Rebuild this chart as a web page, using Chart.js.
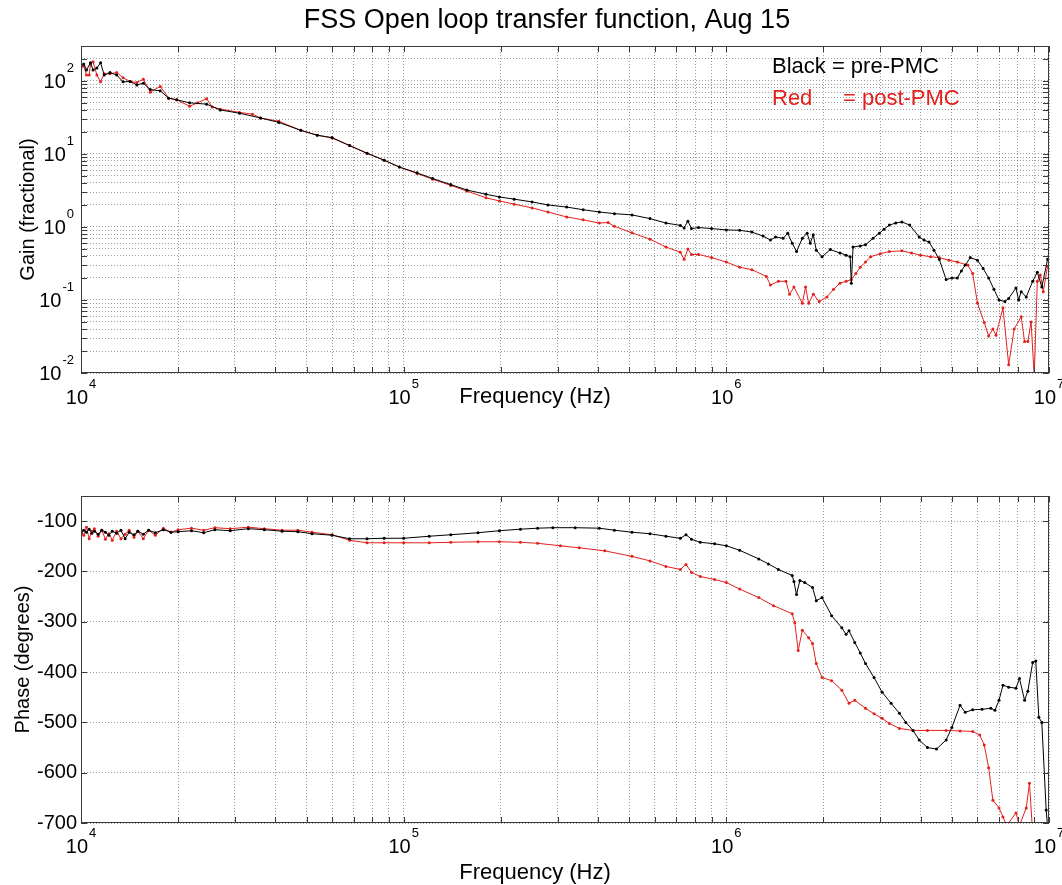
<!DOCTYPE html>
<html>
<head>
<meta charset="utf-8">
<title>FSS Open loop transfer function, Aug 15</title>
<script src="https://cdn.jsdelivr.net/npm/chart.js@4.4.0/dist/chart.umd.min.js"></script>
<style>
  html, body { margin: 0; padding: 0; background: #fff; }
  #wrap { position: relative; width: 1062px; height: 885px; }
  canvas { position: absolute; left: 0; }
  #gain { top: 0; }
  #phase { top: 480px; }
</style>
</head>
<body>
<div id="wrap">
  <canvas id="gain" width="1062" height="420"></canvas>
  <canvas id="phase" width="1062" height="405"></canvas>
</div>
<script>
// ── Data: [frequency Hz, value] ───────────────────────────
const preGain = [
  [1.00e4,160],[1.02e4,170],[1.04e4,141],[1.07e4,177],[1.09e4,141],[1.12e4,150],[1.15e4,177],[1.18e4,120],
  [1.23e4,130],[1.29e4,120],[1.35e4,97],[1.42e4,98],[1.49e4,88],[1.56e4,93],[1.64e4,76],[1.76e4,73],
  [1.87e4,58],[1.98e4,55],[2.17e4,50],[2.45e4,48],[2.7e4,40],[3.1e4,36],[3.6e4,31],[4.1e4,27],
  [4.8e4,21],[5.4e4,18],[6.0e4,16.7],[6.8e4,13],[7.7e4,10.2],[8.7e4,8.2],[9.7e4,6.6],[1.1e5,5.5],
  [1.23e5,4.6],[1.4e5,3.8],[1.57e5,3.2],[1.8e5,2.8],[1.98e5,2.57],[2.2e5,2.4],[2.5e5,2.2],[2.8e5,2.0],
  [3.2e5,1.87],[3.6e5,1.72],[4.04e5,1.6],[4.5e5,1.52],[5.1e5,1.46],[5.8e5,1.3],[6.5e5,1.13],[7.2e5,1.05],
  [7.4e5,0.97],[7.6e5,1.2],[7.8e5,0.95],[8.2e5,0.98],[9.0e5,0.95],[1.0e6,0.91],[1.1e6,0.9],[1.2e6,0.85],
  [1.3e6,0.75],[1.37e6,0.66],[1.42e6,0.73],[1.5e6,0.7],[1.55e6,0.82],[1.6e6,0.6],[1.65e6,0.46],[1.72e6,0.7],
  [1.78e6,0.82],[1.82e6,0.6],[1.86e6,0.78],[1.9e6,0.48],[1.98e6,0.39],[2.1e6,0.49],[2.25e6,0.44],[2.35e6,0.41],
  [2.42e6,0.39],[2.44e6,0.17],[2.47e6,0.53],[2.6e6,0.55],[2.7e6,0.57],[2.85e6,0.7],[2.98e6,0.82],[3.08e6,0.93],
  [3.2e6,1.06],[3.35e6,1.13],[3.5e6,1.17],[3.7e6,1.06],[3.96e6,0.73],[4.1e6,0.66],[4.25e6,0.62],[4.4e6,0.48],
  [4.57e6,0.36],[4.8e6,0.19],[5.0e6,0.2],[5.2e6,0.2],[5.35e6,0.25],[5.5e6,0.3],[5.7e6,0.38],[6.0e6,0.35],
  [6.25e6,0.27],[6.5e6,0.2],[6.75e6,0.14],[7.0e6,0.1],[7.3e6,0.095],[7.5e6,0.105],[7.9e6,0.146],[8.05e6,0.1],
  [8.2e6,0.13],[8.5e6,0.11],[8.9e6,0.18],[9.2e6,0.24],[9.5e6,0.15],[9.9e6,0.36]
];
const postGain = [
  [1.00e4,150],[1.02e4,160],[1.04e4,120],[1.06e4,120],[1.07e4,170],[1.09e4,182],[1.12e4,120],[1.15e4,97],
  [1.18e4,125],[1.23e4,125],[1.29e4,130],[1.35e4,110],[1.42e4,98],[1.49e4,95],[1.56e4,105],[1.64e4,70],
  [1.76e4,84],[1.87e4,58],[1.98e4,55],[2.17e4,45],[2.3e4,50],[2.45e4,57],[2.55e4,44],[2.7e4,41],
  [3.1e4,37],[3.4e4,35],[3.6e4,31],[4.1e4,28],[4.8e4,21],[5.4e4,18],[6.0e4,16.5],[6.8e4,13],
  [7.7e4,10.2],[8.7e4,8.2],[9.7e4,6.6],[1.1e5,5.4],[1.23e5,4.5],[1.4e5,3.7],[1.57e5,3.1],[1.8e5,2.5],
  [1.98e5,2.27],[2.2e5,2.05],[2.5e5,1.82],[2.8e5,1.6],[3.2e5,1.37],[3.6e5,1.25],[4.04e5,1.13],[4.3e5,1.15],
  [4.5e5,1.02],[5.1e5,0.83],[5.8e5,0.68],[6.5e5,0.53],[7.2e5,0.45],[7.4e5,0.36],[7.6e5,0.5],[7.8e5,0.42],
  [8.2e5,0.42],[9.0e5,0.38],[1.0e6,0.33],[1.1e6,0.28],[1.2e6,0.26],[1.33e6,0.21],[1.37e6,0.16],[1.45e6,0.18],
  [1.53e6,0.18],[1.57e6,0.12],[1.62e6,0.15],[1.72e6,0.09],[1.76e6,0.15],[1.8e6,0.09],[1.86e6,0.12],[1.94e6,0.095],
  [2.05e6,0.11],[2.15e6,0.14],[2.25e6,0.17],[2.35e6,0.18],[2.44e6,0.19],[2.52e6,0.23],[2.6e6,0.28],[2.7e6,0.33],
  [2.8e6,0.39],[3.0e6,0.43],[3.2e6,0.46],[3.5e6,0.47],[3.75e6,0.44],[4.0e6,0.41],[4.3e6,0.39],[4.57e6,0.38],
  [4.9e6,0.35],[5.2e6,0.33],[5.6e6,0.3],[5.8e6,0.23],[6.0e6,0.091],[6.3e6,0.049],[6.5e6,0.032],[6.7e6,0.04],
  [6.85e6,0.033],[7.2e6,0.078],[7.5e6,0.013],[7.8e6,0.04],[8.2e6,0.059],[8.4e6,0.027],[8.6e6,0.027],[8.8e6,0.05],
  [9.0e6,0.009],[9.2e6,0.18],[9.4e6,0.22],[9.6e6,0.13],[9.9e6,0.29]
];
const prePhase = [
  [1.00e4,-125],[1.02e4,-118],[1.04e4,-122],[1.06e4,-116],[1.08e4,-124],[1.10e4,-120],[1.13e4,-126],[1.16e4,-118],
  [1.19e4,-122],[1.22e4,-128],[1.25e4,-120],[1.29e4,-124],[1.33e4,-118],[1.37e4,-135],[1.41e4,-122],[1.46e4,-127],
  [1.5e4,-120],[1.56e4,-126],[1.62e4,-118],[1.7e4,-123],[1.8e4,-117],[1.9e4,-122],[2.0e4,-121],[2.2e4,-119],
  [2.4e4,-123],[2.6e4,-117],[2.9e4,-119],[3.3e4,-115],[3.7e4,-117],[4.2e4,-120],[4.7e4,-121],[5.2e4,-125],
  [6.0e4,-128],[6.8e4,-135],[7.7e4,-135],[8.7e4,-134],[1.0e5,-134],[1.2e5,-130],[1.4e5,-127],[1.7e5,-123],
  [1.98e5,-119],[2.3e5,-116],[2.6e5,-114],[2.9e5,-113],[3.4e5,-113],[4.04e5,-114],[4.5e5,-118],[5.1e5,-122],
  [5.8e5,-125],[6.5e5,-130],[7.2e5,-134],[7.5e5,-127],[7.8e5,-136],[8.3e5,-142],[9.2e5,-145],[1.0e6,-149],
  [1.1e6,-158],[1.26e6,-175],[1.35e6,-185],[1.45e6,-196],[1.6e6,-208],[1.62e6,-220],[1.65e6,-246],[1.69e6,-218],
  [1.75e6,-222],[1.85e6,-232],[1.9e6,-258],[1.98e6,-252],[2.12e6,-288],[2.28e6,-312],[2.35e6,-325],[2.4e6,-318],
  [2.5e6,-341],[2.6e6,-362],[2.7e6,-383],[2.87e6,-411],[3.04e6,-440],[3.24e6,-462],[3.44e6,-482],[3.6e6,-500],
  [3.79e6,-516],[3.96e6,-535],[4.2e6,-550],[4.48e6,-553],[4.8e6,-535],[5.0e6,-510],[5.3e6,-466],[5.5e6,-480],
  [5.8e6,-475],[6.2e6,-474],[6.6e6,-472],[6.8e6,-476],[7.0e6,-456],[7.2e6,-426],[7.5e6,-430],[7.9e6,-432],
  [8.1e6,-413],[8.4e6,-456],[8.6e6,-438],[8.9e6,-381],[9.1e6,-378],[9.3e6,-490],[9.5e6,-500],[9.8e6,-674],
  [1.0e7,-740]
];
const postPhase = [
  [1.00e4,-118],[1.02e4,-128],[1.04e4,-112],[1.06e4,-135],[1.08e4,-120],[1.10e4,-115],[1.13e4,-130],[1.16e4,-118],
  [1.19e4,-136],[1.22e4,-125],[1.25e4,-138],[1.29e4,-120],[1.33e4,-135],[1.37e4,-126],[1.41e4,-118],[1.46e4,-132],
  [1.5e4,-120],[1.56e4,-135],[1.62e4,-118],[1.7e4,-128],[1.8e4,-114],[1.9e4,-122],[2.0e4,-117],[2.2e4,-114],
  [2.4e4,-118],[2.6e4,-113],[2.9e4,-115],[3.3e4,-112],[3.7e4,-115],[4.2e4,-118],[4.7e4,-118],[5.2e4,-122],
  [6.0e4,-127],[6.8e4,-138],[7.7e4,-143],[8.7e4,-143],[1.0e5,-143],[1.2e5,-143],[1.4e5,-142],[1.7e5,-141],
  [1.98e5,-141],[2.3e5,-142],[2.6e5,-144],[3.06e5,-149],[3.5e5,-153],[4.2e5,-159],[5.1e5,-170],[5.8e5,-179],
  [6.5e5,-190],[7.2e5,-196],[7.5e5,-186],[7.8e5,-202],[8.3e5,-210],[9.2e5,-216],[1.0e6,-222],[1.1e6,-235],
  [1.26e6,-252],[1.4e6,-268],[1.6e6,-284],[1.63e6,-302],[1.67e6,-357],[1.72e6,-317],[1.8e6,-332],[1.85e6,-343],
  [1.9e6,-383],[1.98e6,-411],[2.12e6,-417],[2.28e6,-436],[2.4e6,-462],[2.5e6,-456],[2.7e6,-472],[2.87e6,-483],
  [3.04e6,-492],[3.2e6,-502],[3.44e6,-512],[3.79e6,-516],[4.2e6,-516],[4.8e6,-516],[5.3e6,-517],[5.8e6,-518],
  [6.1e6,-525],[6.3e6,-545],[6.5e6,-590],[6.7e6,-655],[7.0e6,-670],[7.2e6,-688],[7.4e6,-705],[7.9e6,-680],
  [8.1e6,-705],[8.5e6,-670],[8.7e6,-621],[8.9e6,-720]
];

// ── Axis ticks ───────────────────────────────────────────
const freqDecades = [1e4, 1e5, 1e6, 1e7];
const gainDecades = [1e-2, 1e-1, 1e0, 1e1, 1e2];
const phaseTicks  = [-700, -600, -500, -400, -300, -200, -100];
const minorSteps  = [1, 2, 3, 4, 5, 6, 7, 8, 9];

const FREQ_MIN = 1e4, FREQ_MAX = 1e7;
const GAIN_MIN = 1e-2, GAIN_MAX = 300;
const PHASE_MIN = -700, PHASE_MAX = -50;

const FONT  = "'Liberation Sans', Arial, Helvetica, sans-serif";
const BLACK = '#000000';
const RED   = '#e3201b';
const GRID  = 'rgba(0,0,0,0.38)';
const FRAME = '#3a3a3a';

function logTicks(decades, max) {
  const out = [];
  decades.forEach(d => minorSteps.forEach(m => { if (d * m <= max * 1.0001) out.push(d * m); }));
  return out;
}
const freqTicks = logTicks(freqDecades, FREQ_MAX);
const gainTicks = logTicks(gainDecades, GAIN_MAX);
const isDecade = v => Math.abs(Math.log10(v) - Math.round(Math.log10(v))) < 1e-6;

// ── Frame, inward ticks, 10^n labels, texts ─────────────
function drawPow(ctx, exp, x, baseY, align) {
  ctx.font = '20px ' + FONT;
  const w1 = ctx.measureText('10').width;
  ctx.font = '13px ' + FONT;
  const w2 = ctx.measureText(exp).width;
  const total = w1 + 1 + w2;
  const x0 = align === 'center' ? x - total / 2 : x - total;
  ctx.textAlign = 'left';
  ctx.textBaseline = 'alphabetic';
  ctx.font = '20px ' + FONT;
  ctx.fillText('10', x0, baseY);
  ctx.font = '13px ' + FONT;
  ctx.fillText(exp, x0 + w1 + 1, baseY - 16);
}

const framePlugin = {
  id: 'frame',
  afterDraw(chart, args, opts) {
    const { ctx, chartArea: a, scales } = chart;
    ctx.save();
    // inward tick marks on all four sides
    ctx.strokeStyle = FRAME;
    ctx.lineWidth = 1;
    ctx.beginPath();
    scales.x.ticks.forEach(t => {
      const px = Math.round(scales.x.getPixelForValue(t.value)) + 0.5;
      ctx.moveTo(px, a.bottom); ctx.lineTo(px, a.bottom - 6);
      ctx.moveTo(px, a.top); ctx.lineTo(px, a.top + 6);
    });
    scales.y.ticks.forEach(t => {
      const py = Math.round(scales.y.getPixelForValue(t.value)) + 0.5;
      ctx.moveTo(a.left, py); ctx.lineTo(a.left + 6, py);
      ctx.moveTo(a.right, py); ctx.lineTo(a.right - 6, py);
    });
    ctx.stroke();
    ctx.strokeRect(a.left + 0.5, a.top + 0.5, a.right - a.left - 1, a.bottom - a.top - 1);

    // 10^n labels
    ctx.fillStyle = '#000';
    freqDecades.forEach(v => {
      drawPow(ctx, String(Math.round(Math.log10(v))), scales.x.getPixelForValue(v), a.bottom + opts.xLabelOffset, 'center');
    });
    if (opts.logY) {
      gainDecades.forEach(v => {
        drawPow(ctx, String(Math.round(Math.log10(v))), a.left - 7, scales.y.getPixelForValue(v) + 7, 'right');
      });
    }

    // x axis title
    ctx.font = '22px ' + FONT;
    ctx.textAlign = 'center';
    ctx.textBaseline = 'middle';
    ctx.fillStyle = '#000';
    ctx.fillText('Frequency (Hz)', 535, opts.xTitleY);

    // figure title
    if (opts.title) {
      ctx.font = '27px ' + FONT;
      ctx.textBaseline = 'alphabetic';
      ctx.fillText(opts.title, 547, 28);
    }

    // legend text
    if (opts.legend) {
      ctx.font = '22px ' + FONT;
      ctx.textAlign = 'left';
      ctx.textBaseline = 'alphabetic';
      ctx.fillStyle = BLACK;
      ctx.fillText('Black = pre-PMC', 772, 73);
      ctx.fillStyle = RED;
      ctx.fillText('Red', 772, 105);
      ctx.fillText('= post-PMC', 843, 105);
    }
    ctx.restore();
  }
};

function series(points, color) {
  return {
    data: points.map(([f, v]) => ({ x: f, y: v })),
    borderColor: color,
    backgroundColor: color,
    borderWidth: 1,
    pointRadius: 1.5,
    pointBorderWidth: 0,
    pointBackgroundColor: color,
    tension: 0
  };
}

const gridOpts = { color: GRID, lineWidth: 1, drawTicks: false };
const borderOpts = { display: false, dash: [1, 2] };

function xScale(height) {
  return {
    type: 'logarithmic',
    min: FREQ_MIN,
    max: FREQ_MAX,
    afterBuildTicks: s => { s.ticks = freqTicks.map(v => ({ value: v, major: isDecade(v) })); },
    afterFit: s => { s.height = height; },
    grid: gridOpts,
    border: borderOpts,
    ticks: { display: false },
    title: { display: false }
  };
}

// ── 1. Gain (log-log) ────────────────────────────────────
new Chart(document.getElementById('gain'), {
  type: 'line',
  data: { datasets: [series(preGain, BLACK), series(postGain, RED)] },
  plugins: [framePlugin],
  options: {
    responsive: false,
    animation: false,
    events: [],
    layout: { autoPadding: false, padding: { left: 0, right: 13, top: 46, bottom: 0 } },
    plugins: {
      legend: { display: false },
      tooltip: { enabled: false },
      frame: {
        xLabelOffset: 31, xTitleY: 397, logY: true, legend: true,
        title: 'FSS Open loop transfer function, Aug 15'
      }
    },
    scales: {
      x: xScale(47),
      y: {
        type: 'logarithmic',
        min: GAIN_MIN,
        max: GAIN_MAX,
        afterBuildTicks: s => { s.ticks = gainTicks.map(v => ({ value: v, major: isDecade(v) })); },
        afterFit: s => { s.width = 81; },
        grid: gridOpts,
        border: borderOpts,
        ticks: { display: false },
        title: {
          display: true,
          text: 'Gain (fractional)',
          color: '#000',
          font: { family: FONT, size: 20 },
          padding: { top: 16, bottom: 0 }
        }
      }
    }
  }
});

// ── 2. Phase (log-linear) ────────────────────────────────
new Chart(document.getElementById('phase'), {
  type: 'line',
  data: { datasets: [series(prePhase, BLACK), series(postPhase, RED)] },
  plugins: [framePlugin],
  options: {
    responsive: false,
    animation: false,
    events: [],
    layout: { autoPadding: false, padding: { left: 0, right: 13, top: 15, bottom: 0 } },
    plugins: {
      legend: { display: false },
      tooltip: { enabled: false },
      frame: { xLabelOffset: 30, xTitleY: 393, logY: false, legend: false }
    },
    scales: {
      x: xScale(62),
      y: {
        type: 'linear',
        min: PHASE_MIN,
        max: PHASE_MAX,
        afterBuildTicks: s => { s.ticks = phaseTicks.map(v => ({ value: v })); },
        afterFit: s => { s.width = 81; },
        grid: gridOpts,
        border: borderOpts,
        ticks: { color: '#000', padding: 4, font: { family: FONT, size: 20 } },
        title: {
          display: true,
          text: 'Phase (degrees)',
          color: '#000',
          font: { family: FONT, size: 20 },
          padding: { top: 11, bottom: 0 }
        }
      }
    }
  }
});
</script>
</body>
</html>
